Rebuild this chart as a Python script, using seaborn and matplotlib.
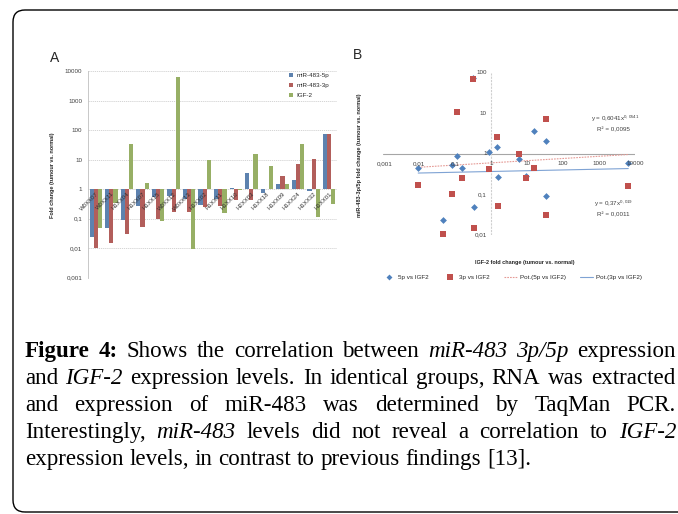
import numpy as np
import pandas as pd
import matplotlib
matplotlib.use("Agg")
import matplotlib.pyplot as plt
import seaborn as sns
from matplotlib.patches import FancyBboxPatch
from matplotlib.lines import Line2D

# ---------------- data ----------------
samples = ["W0XX07", "W0XX11", "H1XX04", "H1XX07", "H1XX15", "W0XX12", "W0XX13", "H1XX02",
           "H1XX11", "H1XX10", "H2XX03", "H1XX18", "H1XX09", "H1XX24", "H1XX32", "H1XX01"]
mir5p = [0.024, 0.05, 0.09, 0.27, 0.55, 0.59, 0.45, 0.28, 0.45, 1.12, 3.6, 0.75, 1.5, 2.05, 0.88, 76]
mir3p = [0.0104, 0.0145, 0.031, 0.052, 0.10, 0.165, 0.17, 0.25, 0.26, 0.43, 0.44, 1.0, 2.7, 7.3, 10.7, 73]
igf2 = [0.047, 0.33, 34, 1.6, 0.085, 6500, 0.0095, 9.4, 0.16, 0.9, 16, 6.1, 1.44, 33, 0.115, 0.32]
series_names = ["miR-483-5p", "miR-483-3p", "IGF-2"]

a_ticks = [1e-3, 1e-2, 1e-1, 1, 10, 100, 1000, 10000]
a_ticklabels = ["0,001", "0,01", "0,1", "1", "10", "100", "1000", "10000"]
bx_ticks = [1e-3, 1e-2, 1e-1, 1, 10, 100, 1000, 10000]
bx_ticklabels = ["0,001", "0,01", "0,1", "1", "10", "100", "1000", "10000"]
by_ticks = [0.01, 0.1, 1, 10, 100]
by_ticklabels = ["0,01", "0,1", "1", "10", "100"]

# power trendlines (coefficient, exponent) as reported
fit5p = (0.6041, 0.0541)
fit3p = (0.37, 0.019)
eq_5p = ["y = 0,6041x$^{0,0541}$", "R² = 0,0095"]
eq_3p = ["y = 0,37x$^{0,019}$", "R² = 0,0011"]

# ---------------- style ----------------
sns.set_style("white")
plt.rcParams["font.family"] = ["Liberation Sans", "DejaVu Sans"]
plt.rcParams["mathtext.default"] = "regular"

BLUE = "#4F81BD"
RED = "#C0504D"
GREEN = "#9BBB59"
TICKC = "#404040"

W, H = 678, 514
fig = plt.figure(figsize=(W / 100, H / 100), dpi=100)


def fx(px):
    return px / W


def fy(py):
    return 1 - py / H


# ---------------- panel A ----------------
axA = fig.add_axes([fx(88), fy(277.7), fx(337) - fx(88), fy(71) - fy(277.7)])
df = pd.DataFrame({
    "sample": samples * 3,
    "series": sum([[s] * len(samples) for s in series_names], []),
    "value": mir5p + mir3p + igf2,
})
axA.set_yscale("log")
sns.barplot(data=df, x="sample", y="value", hue="series", hue_order=series_names,
            palette=[BLUE, RED, GREEN], width=0.8, ax=axA, linewidth=0, zorder=2)
# bars grow from the axis crossing at 1
for p in axA.patches:
    h = p.get_height()
    p.set_y(1)
    p.set_height(h - 1)
axA.set_ylim(1e-3, 1e4)
axA.set_xlim(-0.5, len(samples) - 0.5)
axA.set_yticks(a_ticks)
axA.set_yticklabels(a_ticklabels)
axA.yaxis.set_minor_locator(matplotlib.ticker.NullLocator())
axA.tick_params(axis="y", length=0, labelsize=4.5, labelcolor=TICKC, pad=4)
axA.set_xticks([])
axA.set_xlabel("")
axA.yaxis.grid(True, color="#cfcfcf", ls=(0, (1.5, 1)), lw=0.6, zorder=0)
axA.set_axisbelow(True)
for s in ["top", "right", "bottom"]:
    axA.spines[s].set_visible(False)
axA.spines["left"].set_color("#bfbfbf")
axA.spines["left"].set_linewidth(0.6)
axA.set_ylabel("Fold change (tumour vs. normal)", fontsize=4, fontweight="bold")
axA.yaxis.set_label_coords((55 - 88) / 249, 0.497)
for i, name in enumerate(samples):
    axA.annotate(name, xy=(i, 1), xytext=(2.5, -1.5), textcoords="offset points",
                 rotation=45, ha="right", va="top", fontsize=4.3, color="#303030", zorder=5)
sns.move_legend(axA, "upper left", bbox_to_anchor=(fx(286), fy(70)),
                bbox_transform=fig.transFigure, frameon=False, title=None,
                fontsize=4.5, handlelength=0.6, handleheight=0.6, handletextpad=0.6,
                labelspacing=0.75, borderpad=0)

# ---------------- panel B ----------------
axB = fig.add_axes([fx(383), fy(235), fx(635) - fx(383), fy(73) - fy(235)])
axB.set_xscale("log")
axB.set_yscale("log")
axB.set_xlim(1e-3, 1e4)
axB.set_ylim(1e-2, 1e2)
axB.axhline(1, color="#a6a6a6", lw=0.8, zorder=1)
axB.axvline(1, color="#cfcfcf", lw=0.8, ls=(0, (2, 1)), zorder=1)

xl = np.logspace(np.log10(min(igf2)), np.log10(max(igf2)), 50)
sns.lineplot(x=xl, y=fit5p[0] * xl ** fit5p[1], ax=axB, color="#E59A95", lw=0.8,
             ls=(0, (1.5, 1)), zorder=2)
sns.lineplot(x=xl, y=fit3p[0] * xl ** fit3p[1], ax=axB, color="#7FA3D4", lw=0.8, zorder=2)
sns.scatterplot(x=igf2, y=mir5p, ax=axB, marker="D", color=BLUE, s=12, linewidth=0,
                clip_on=False, zorder=3)
sns.scatterplot(x=igf2, y=mir3p, ax=axB, marker="s", color=RED, s=22, linewidth=0,
                clip_on=False, zorder=4)
for s in axB.spines.values():
    s.set_visible(False)
axB.set_xticks([])
axB.set_yticks([])
axB.minorticks_off()
for v, lab in zip(bx_ticks, bx_ticklabels):
    axB.annotate(lab, xy=(v, 1), xytext=(1.5 if v == bx_ticks[0] else 0, -5),
                 textcoords="offset points", ha="center", va="top", fontsize=4.5, color=TICKC)
for v, lab in zip(by_ticks, by_ticklabels):
    axB.annotate(lab, xy=(1, v), xytext=(-3, 0), textcoords="offset points",
                 ha="right", va="center", fontsize=4.5, color=TICKC)
axB.set_xlabel("IGF-2 fold change (tumour vs. normal)", fontsize=4, fontweight="bold")
axB.xaxis.set_label_coords((525 - 383) / 252, (235 - 260) / 162)
axB.set_ylabel("miR-483-3p/5p fold change (tumour vs. normal)", fontsize=4, fontweight="bold")
axB.yaxis.set_label_coords((362 - 383) / 252, 0.494)
axB.text(0.92, 0.715, eq_5p[0], transform=axB.transAxes, ha="center", va="center", fontsize=4.5, color=TICKC)
axB.text(0.915, 0.652, eq_5p[1], transform=axB.transAxes, ha="center", va="center", fontsize=4.5, color=TICKC)
axB.text(0.915, 0.19, eq_3p[0], transform=axB.transAxes, ha="center", va="center", fontsize=4.5, color=TICKC)
axB.text(0.915, 0.128, eq_3p[1], transform=axB.transAxes, ha="center", va="center", fontsize=4.5, color=TICKC)

handles = [Line2D([], [], marker="D", ls="", color=BLUE, ms=3, mew=0),
           Line2D([], [], marker="s", ls="", color=RED, ms=4, mew=0),
           Line2D([], [], color="#E59A95", lw=0.8, ls=(0, (1.5, 1))),
           Line2D([], [], color="#7FA3D4", lw=0.8)]
labels = ["5p vs IGF2", "3p vs IGF2", "Pot.(5p vs IGF2)", "Pot.(3p vs IGF2)"]
fig.legend(handles, labels, loc="center", bbox_to_anchor=(fx(512), fy(277)), ncol=4,
           frameon=False, fontsize=4.5, handlelength=2.2, handletextpad=0.4, columnspacing=2.2)

# panel letters
fig.text(fx(55), fy(58), "A", fontsize=10, ha="center", va="center")
fig.text(fx(358), fy(55), "B", fontsize=10, ha="center", va="center")

# ---------------- caption ----------------
cap_lines = [
    [("Figure", "b"), ("4:", "b"), ("Shows", "n"), ("the", "n"), ("correlation", "n"), ("between", "n"),
     ("miR-483", "i"), ("3p/5p", "i"), ("expression", "n")],
    [("and", "n"), ("IGF-2", "i"), ("expression", "n"), ("levels.", "n"), ("In", "n"), ("identical", "n"),
     ("groups,", "n"), ("RNA", "n"), ("was", "n"), ("extracted", "n")],
    [("and", "n"), ("expression", "n"), ("of", "n"), ("miR-483", "n"), ("was", "n"), ("determined", "n"),
     ("by", "n"), ("TaqMan", "n"), ("PCR.", "n")],
    [("Interestingly,", "n"), ("miR-483", "i"), ("levels", "n"), ("did", "n"), ("not", "n"), ("reveal", "n"),
     ("a", "n"), ("correlation", "n"), ("to", "n"), ("IGF-2", "i")],
    [("expression", "n"), ("levels,", "n"), ("in", "n"), ("contrast", "n"), ("to", "n"), ("previous", "n"),
     ("findings", "n"), ("[13].", "n")],
]
right_edges = [676, 675, 676, 676, None]
renderer = fig.canvas.get_renderer()
CAP_FS = 16.6
left = 25
for li, words in enumerate(cap_lines):
    base = 357 + 27 * li
    arts = []
    for w, st in words:
        t = fig.text(0, fy(base), w, fontsize=CAP_FS, family=["Liberation Serif", "DejaVu Serif"],
                     fontweight="bold" if st == "b" else "normal",
                     fontstyle="italic" if st == "i" else "normal",
                     va="baseline", ha="left", color="black")
        arts.append(t)
    widths = [t.get_window_extent(renderer).width for t in arts]
    if right_edges[li] is None:
        gap = 0.25 * CAP_FS * 100 / 72
    else:
        gap = (right_edges[li] - left - sum(widths)) / (len(arts) - 1)
    x = left
    for t, wd in zip(arts, widths):
        t.set_x(fx(x))
        x += wd + gap

# border
border = FancyBboxPatch((0.13, 0.02), 7.0, 5.02, boxstyle="round,pad=0,rounding_size=0.12",
                        transform=fig.dpi_scale_trans, fill=False, lw=1.0, ec="black")
fig.add_artist(border)

fig.savefig("out.png", dpi=100)
